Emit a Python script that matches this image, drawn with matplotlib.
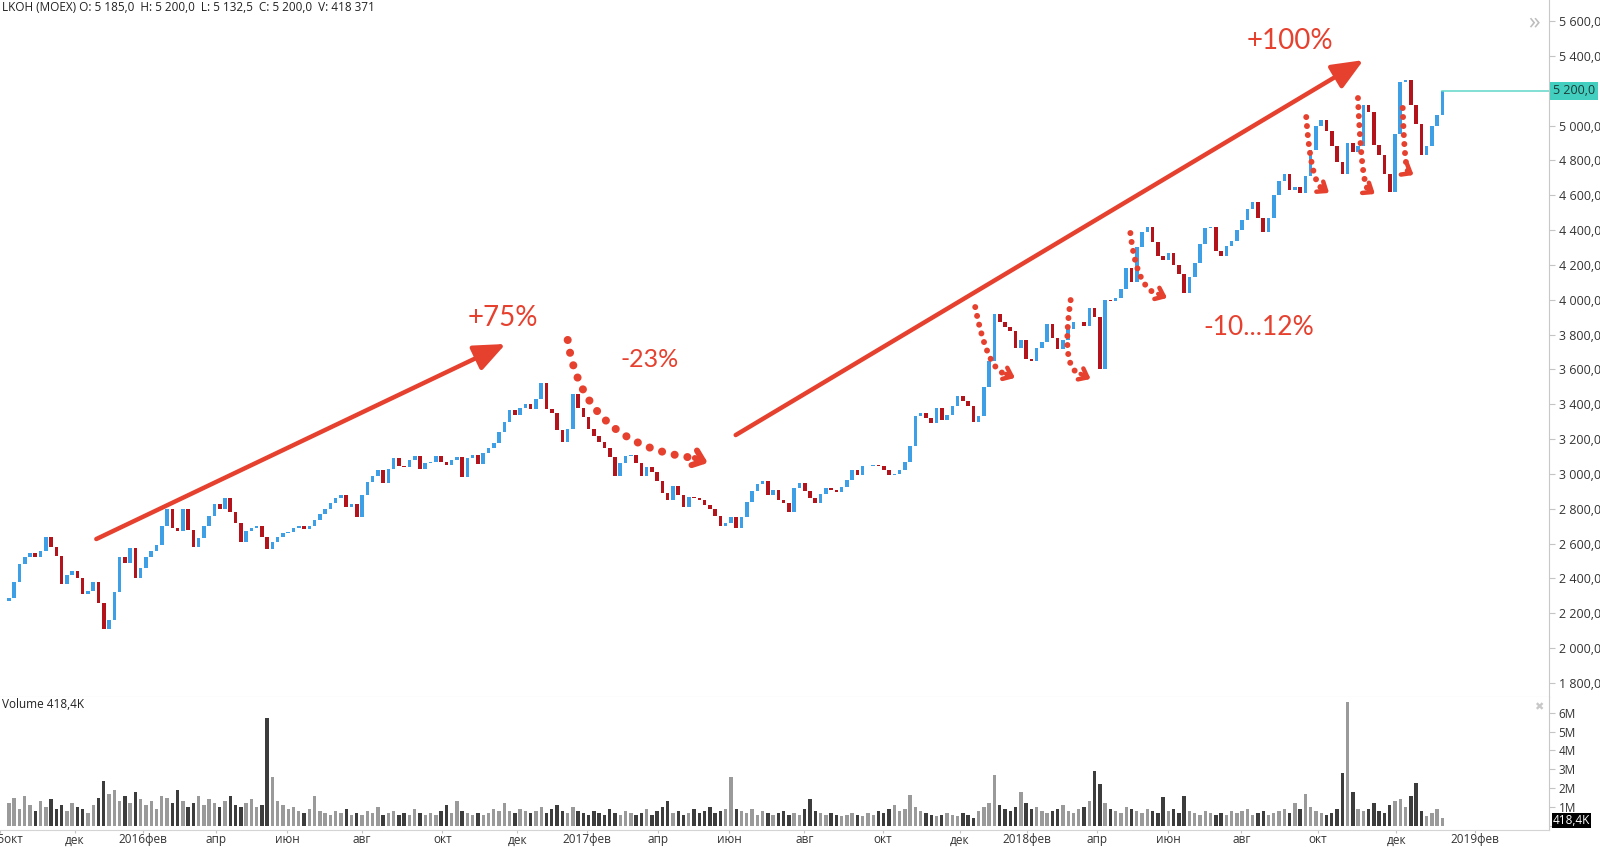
import numpy as np
import matplotlib.pyplot as plt
from matplotlib.ticker import FuncFormatter

# LKOH (MOEX), окт 2015 - янв 2019. Каждая свеча ~ 3 торговых дня
close = [
    2290, 2380, 2480, 2520, 2545, 2520, 2560, 2640, 2580, 2530,
    2370, 2420, 2445, 2400, 2310, 2325, 2380, 2260, 2110, 2160,
    2320, 2520, 2490, 2575, 2400, 2460, 2520, 2555, 2590, 2700,
    2800, 2690, 2670, 2800, 2680, 2580, 2630, 2700, 2760, 2830,
    2800, 2860, 2780, 2720, 2610, 2670, 2690, 2700, 2640, 2570,
    2610, 2640, 2660, 2665, 2690, 2700, 2685, 2700, 2735, 2770,
    2800, 2833, 2860, 2880, 2810, 2830, 2750, 2880, 2955, 2990,
    3020, 2950, 3030, 3090, 3045, 3040, 3080, 3105, 3030, 3065,
    3070, 3105, 3070, 3050, 3080, 3095, 2985, 3090, 3110, 3055,
    3120, 3150, 3180, 3240, 3300, 3365, 3340, 3380, 3400, 3370,
    3430, 3520, 3370, 3350, 3250, 3185, 3260, 3460, 3380, 3325,
    3255, 3220, 3185, 3150, 3095, 2990, 3060, 3100, 3110, 3060,
    2990, 3040, 3010, 2960, 2890, 2850, 2930, 2880, 2810, 2870,
    2860, 2850, 2820, 2800, 2760, 2700, 2720, 2750, 2690, 2750,
    2840, 2900, 2940, 2960, 2880, 2905, 2850, 2835, 2780, 2920,
    2945, 2900, 2860, 2835, 2885, 2920, 2905, 2895, 2925, 2965,
    3020, 2995, 3045, 3045, 3050, 3045, 3020, 2995, 3000, 3020,
    3070, 3160, 3330, 3350, 3320, 3290, 3380, 3310, 3340, 3390,
    3450, 3420, 3390, 3300, 3330, 3500, 3650, 3920, 3870, 3845,
    3820, 3720, 3770, 3660, 3650, 3720, 3760, 3860, 3780, 3715,
    3770, 3830, 3870, 3870, 3850, 3950, 3900, 3600, 4000, 3990,
    4010, 4060, 4180, 4100, 4300, 4390, 4420, 4330, 4250, 4230,
    4270, 4200, 4150, 4040, 4130, 4210, 4320, 4410, 4420, 4280,
    4250, 4310, 4340, 4400, 4460, 4520, 4560, 4470, 4390, 4470,
    4600, 4680, 4720, 4630, 4650, 4610, 4710, 4860, 5000, 5030,
    4970, 4880, 4790, 4720, 4900, 4850, 4880, 5120, 5080, 4890,
    4830, 4720, 4620, 4950, 5250, 5260, 5120, 5010, 4830, 4880,
    5000, 5060, 5200,
]
first_open = 2270

# объём, млн акций
volume = [
    1.2, 1.5, 0.9, 1.6, 1.1, 0.8, 1.3, 1.0, 1.4, 0.9,
    1.1, 0.8, 1.2, 1.0, 0.9, 0.7, 1.1, 1.5, 2.4, 1.7,
    1.9, 1.3, 1.6, 1.2, 1.8, 1.4, 1.1, 1.3, 0.9, 1.6,
    1.5, 1.2, 1.9, 1.3, 1.0, 1.2, 1.6, 1.1, 1.4, 1.2,
    1.0, 1.3, 1.6, 1.1, 1.0, 1.2, 1.4, 1.0, 1.1, 5.7,
    2.6, 1.3, 1.1, 0.9, 1.0, 0.8, 0.7, 0.9, 1.6, 0.8,
    0.7, 0.6, 0.8, 0.7, 0.9, 0.6, 0.7, 0.6, 0.8, 0.7,
    1.0, 0.6, 0.7, 0.8, 0.6, 0.7, 0.6, 0.9, 0.7, 0.6,
    0.7, 0.6, 0.8, 1.1, 0.7, 1.3, 0.8, 0.7, 0.6, 0.7,
    0.6, 0.7, 0.9, 0.8, 1.2, 0.8, 0.7, 0.9, 0.8, 0.7,
    0.8, 1.0, 0.7, 0.9, 1.1, 0.8, 0.7, 1.0, 0.8, 0.7,
    0.6, 0.8, 0.7, 0.6, 0.9, 0.7, 0.6, 0.8, 0.7, 0.6,
    0.7, 0.9, 0.6, 0.8, 1.0, 1.3, 0.7, 0.8, 0.6, 0.7,
    0.9, 0.7, 0.8, 1.0, 0.7, 0.8, 0.9, 2.6, 0.9, 0.8,
    0.7, 0.9, 0.6, 0.8, 0.7, 0.6, 0.7, 0.8, 0.6, 0.7,
    0.6, 0.9, 1.4, 0.8, 0.7, 0.6, 0.7, 0.6, 0.5, 0.6,
    0.7, 0.6, 0.5, 0.7, 0.6, 0.8, 0.7, 0.9, 1.1, 0.8,
    0.9, 1.65, 1.0, 0.8, 0.7, 0.6, 0.5, 0.6, 0.7, 0.6,
    0.5, 0.7, 0.6, 0.4, 0.8, 1.0, 1.2, 2.7, 1.1, 0.9,
    0.8, 1.0, 1.8, 1.2, 0.9, 1.0, 0.8, 0.7, 0.8, 0.9,
    1.1, 0.8, 0.7, 0.9, 1.0, 1.3, 2.9, 2.2, 1.2, 0.9,
    0.8, 0.7, 1.0, 0.9, 0.8, 0.7, 0.9, 0.8, 0.7, 1.55,
    0.8, 0.9, 0.7, 1.6, 0.8, 0.7, 0.6, 0.8, 0.7, 0.6,
    0.7, 0.6, 0.8, 0.7, 0.8, 0.9, 0.6, 0.7, 0.8, 0.6,
    0.7, 0.8, 0.9, 0.7, 1.2, 0.9, 1.7, 1.0, 0.8, 0.7,
    0.6, 0.7, 0.9, 2.8, 6.6, 1.8, 0.9, 0.8, 0.9, 1.2,
    0.8, 0.7, 1.1, 1.3, 1.4, 1.0, 1.6, 2.3, 0.8, 0.5,
    0.7, 0.9, 0.418,
]

# ось времени - торговые дни биржи
start = '2015-10-08'
step = 2.955
holidays = ['2015-11-04',
            '2016-01-01', '2016-01-04', '2016-01-05', '2016-01-06', '2016-01-07', '2016-01-08',
            '2016-02-22', '2016-02-23', '2016-03-08', '2016-05-02', '2016-05-03', '2016-05-09',
            '2016-06-13', '2016-11-04',
            '2017-01-02', '2017-01-03', '2017-01-04', '2017-01-05', '2017-01-06',
            '2017-02-23', '2017-02-24', '2017-03-08', '2017-05-01', '2017-05-08', '2017-05-09',
            '2017-06-12', '2017-11-06',
            '2018-01-01', '2018-01-02', '2018-01-03', '2018-01-04', '2018-01-05', '2018-01-08',
            '2018-02-23', '2018-03-08', '2018-03-09', '2018-04-30', '2018-05-01', '2018-05-02',
            '2018-05-09', '2018-06-11', '2018-06-12', '2018-11-05']
month_starts = ['2015-10-01', '2015-12-01', '2016-02-01', '2016-04-01', '2016-06-01', '2016-08-01',
                '2016-10-01', '2016-12-01', '2017-02-01', '2017-04-01', '2017-06-01', '2017-08-01',
                '2017-10-01', '2017-12-01', '2018-02-01', '2018-04-01', '2018-06-01', '2018-08-01',
                '2018-10-01', '2018-12-01', '2019-02-01']
month_labels = ['2015окт', 'дек', '2016фев', 'апр', 'июн', 'авг', 'окт', 'дек',
                '2017фев', 'апр', 'июн', 'авг', 'окт', 'дек',
                '2018фев', 'апр', 'июн', 'авг', 'окт', 'дек', '2019фев']

blue = '#3d9fe6'
red = '#b3141c'
arrow_red = '#e6412f'
font = ['Open Sans', 'DejaVu Sans']

closes = np.array(close, dtype=float)
opens = np.r_[first_open, closes[:-1]]
x = np.arange(len(closes)) * step
up = closes >= opens

tick_pos = [np.busday_count(start, m, holidays=holidays) for m in month_starts]

plt.rcParams['font.family'] = font

fig = plt.figure(figsize=(16, 8.47), dpi=100)
ax = fig.add_axes([0, 0.1771, 0.968, 0.8229])
axv = fig.add_axes([0, 0.0201, 0.968, 0.1570], sharex=ax)

# свечи
ax.bar(x, closes - opens, bottom=opens, width=2.0, color=np.where(up, blue, red), linewidth=0)
ax.plot([x[-1], 870], [closes[-1], closes[-1]], color='#5fd6c8', lw=1.1)

ax.set_xlim(-0.4, 863.4)
ax.set_ylim(1719, 5721)
ax.yaxis.tick_right()
ax.set_yticks(range(1800, 5601, 200))
# метка 5 200,0 закрыта плашкой последней цены
ax.yaxis.set_major_formatter(FuncFormatter(
    lambda v, p: '' if v == closes[-1] else f'{v:,.1f}'.replace(',', ' ').replace('.', ',')))
ax.tick_params(axis='y', direction='out', length=4, color='#c4c4c4', labelsize=9,
               labelcolor='#333333', pad=3)
ax.tick_params(axis='x', which='both', bottom=False, labelbottom=False)
for s in ['top', 'left']:
    ax.spines[s].set_visible(False)
ax.spines['right'].set_color('#c8c8c8')
ax.spines['bottom'].set_color('#d4d4d4')

# объёмы
axv.bar(x, volume, width=1.9, color=np.where(up, '#9a9a9a', '#3c3c3c'), linewidth=0)
axv.set_ylim(-0.22, 6.84)
axv.yaxis.tick_right()
axv.set_yticks(range(0, 7))
axv.yaxis.set_major_formatter(FuncFormatter(lambda v, p: '' if v == 0 else f'{int(v)}M'))
axv.tick_params(axis='y', direction='out', length=4, color='#c4c4c4', labelsize=8.5,
                labelcolor='#333333', pad=3)
axv.set_xticks(tick_pos, month_labels)
axv.tick_params(axis='x', direction='out', length=2, color='#c4c4c4', labelsize=8.5,
                labelcolor='#333333', pad=0.5)
axv.spines['top'].set_visible(False)
axv.spines['left'].set_visible(False)
axv.spines['right'].set_color('#c8c8c8')
axv.spines['bottom'].set_color('#d4d4d4')

# метки последней цены и объёма
ax.annotate('5 200,0', xy=(1, closes[-1]), xycoords=('axes fraction', 'data'),
            xytext=(3, 0), textcoords='offset points', ha='left', va='center',
            fontsize=9, color='#1d3a37',
            bbox=dict(boxstyle='square,pad=0.2', fc='#42cfbf', ec='none'))
axv.annotate('418,4K', xy=(1, 0), xycoords='axes fraction',
             xytext=(3, 2), textcoords='offset points', ha='left', va='bottom',
             fontsize=8.5, color='white',
             bbox=dict(boxstyle='square,pad=0.1', fc='black', ec='none'))

fig.text(0.001, 0.9917, 'LKOH (MOEX) O: 5 185,0  H: 5 200,0  L: 5 132,5  C: 5 200,0  V: 418 371',
         fontsize=8.5, color='#222222', va='center', ha='left')
fig.text(0.001, 0.1688, 'Volume 418,4K', fontsize=8.5, color='#222222', va='center', ha='left')
fig.text(0.959, 0.974, '»', fontsize=17, color='#bdbdbd', va='center', ha='center')
fig.text(0.962, 0.165, '✖', fontsize=8, color='#c8c8c8', va='center', ha='center',
         family='DejaVu Sans')

# сплошные стрелки
arrow_kw = dict(arrowstyle='-|>,head_length=1.9,head_width=0.8', lw=3.2, color=arrow_red,
                shrinkA=0, shrinkB=0)
ax.annotate('', xy=(278.5, 3746), xytext=(49.0, 2626), arrowprops=arrow_kw)
ax.annotate('', xy=(759.5, 5376), xytext=(407.5, 3223), arrowprops=arrow_kw)


def dotted_arc(p0, p1, p2, tip, lw, gap, head):
    t = np.linspace(0, 1, 100)[:, None]
    p0, p1, p2 = np.array(p0), np.array(p1), np.array(p2)
    pts = (1 - t) ** 2 * p0 + 2 * (1 - t) * t * p1 + t ** 2 * p2
    ax.plot(pts[:, 0], pts[:, 1], color=arrow_red, lw=lw, linestyle=(0, (0.01, gap)),
            dash_capstyle='round')
    ax.annotate('', xy=tip, xytext=tuple(p2),
                arrowprops=dict(arrowstyle=f'->,head_length={head},head_width={head * 0.8}',
                                lw=lw * 0.75, color=arrow_red, shrinkA=0, shrinkB=0,
                                capstyle='round', joinstyle='round'))


# x в торговых днях (пиксели / 1.794)
dotted_arc((313.3, 3769), (322.2, 3166), (384.6, 3091), (391.9, 3063), 5.8, 1.6, 0.7)
dotted_arc((541.8, 3958), (549.1, 3585), (559.1, 3574), (564.1, 3551), 4.3, 1.5, 0.55)
dotted_arc((595.3, 3998), (589.7, 3597), (600.9, 3574), (606.5, 3545), 4.3, 1.5, 0.55)
dotted_arc((628.8, 4383), (632.6, 4056), (644.4, 4033), (649.4, 4010), 4.3, 1.5, 0.55)
dotted_arc((727.4, 5049), (730.2, 4659), (736.9, 4636), (740.2, 4613), 4.3, 1.5, 0.55)
dotted_arc((756.4, 5158), (758.6, 4641), (762.5, 4630), (765.9, 4607), 4.3, 1.5, 0.55)
dotted_arc((781.5, 5101), (782.6, 4745), (784.8, 4733), (787.6, 4716), 4.3, 1.5, 0.55)

# подписи
txt_kw = dict(color=arrow_red, ha='center', va='center', family=['Lato', 'DejaVu Sans'])
ax.text(277, 3895, '+75%', fontsize=20, **txt_kw)
ax.text(359, 3654, '-23%', fontsize=18, **txt_kw)
ax.text(718, 5485, '+100%', fontsize=20, **txt_kw)
ax.text(700.5, 3843, '-10...12%', fontsize=19, **txt_kw)

fig.savefig('out.png', dpi=100)
